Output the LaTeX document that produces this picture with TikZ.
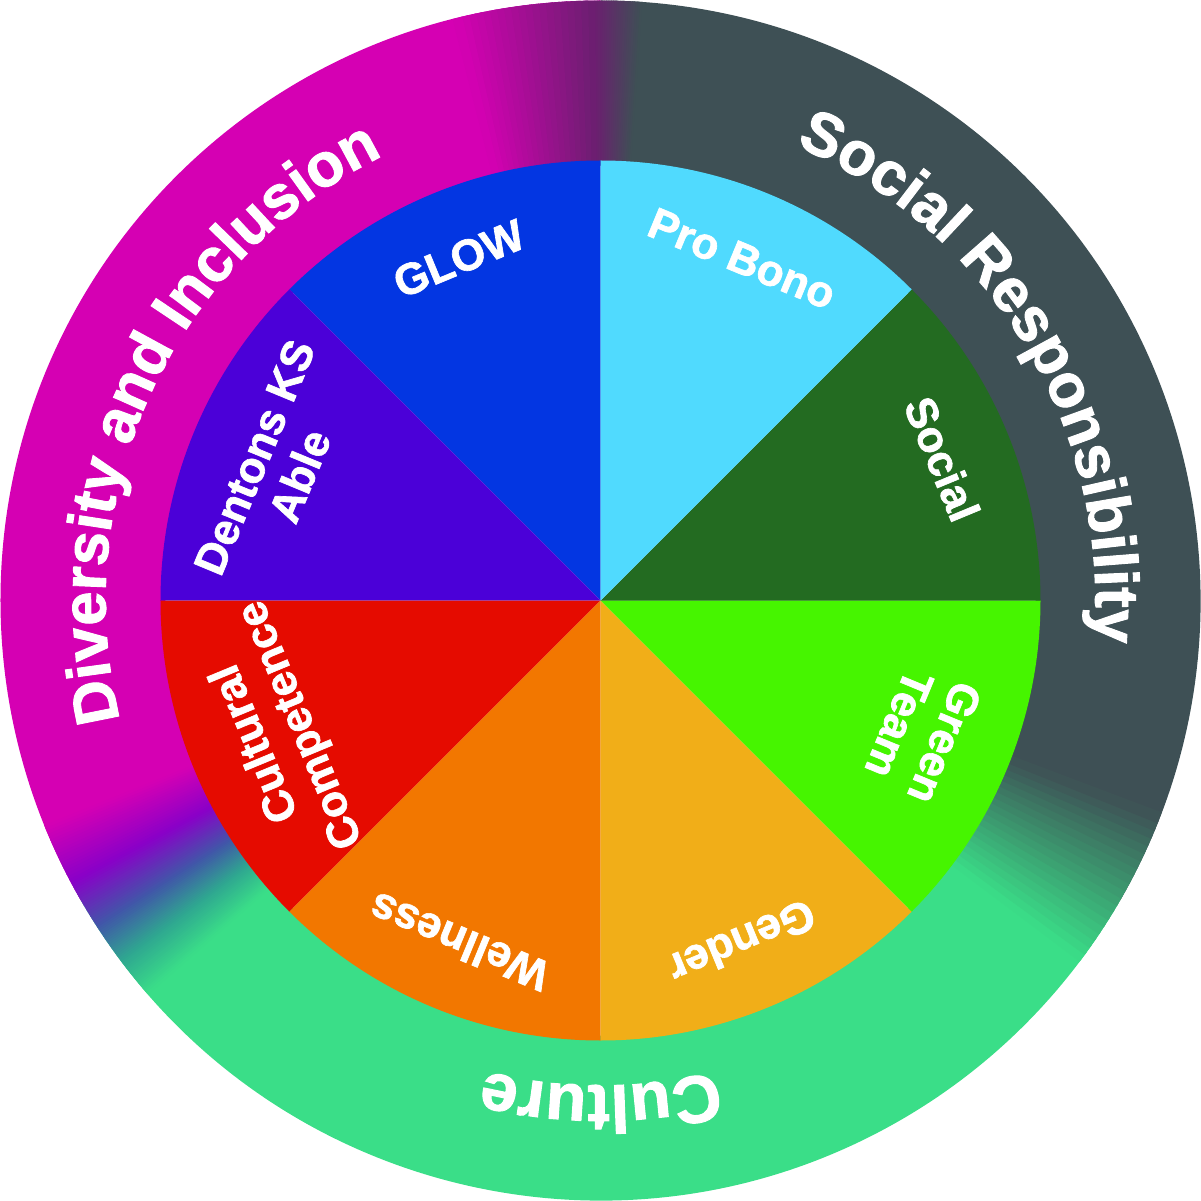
\documentclass[tikz,border=0pt]{standalone}
\usepackage{fontspec}
\setmainfont{Liberation Sans}[BoldFeatures={FakeBold=1.5}]
\usepackage{xcolor}
\usepackage{tikz}
\usetikzlibrary{decorations.text}

% ring colours
\definecolor{ringmagenta}{HTML}{D500B3}
\definecolor{ringgray}{HTML}{3E5055}
\definecolor{ringgreen}{HTML}{3ADE88}
\definecolor{ringplum}{HTML}{6B1F70}
\definecolor{ringviolet}{HTML}{8A00C8}
\definecolor{ringsteel}{HTML}{4058A8}
\definecolor{ringteal}{HTML}{2FA890}
% sector colours
\definecolor{glowblue}{HTML}{0336E2}
\definecolor{ablepurple}{HTML}{4B00D8}
\definecolor{culturalred}{HTML}{E50B00}
\definecolor{wellnessorange}{HTML}{F27700}
\definecolor{gendergold}{HTML}{F1AE18}
\definecolor{greenteam}{HTML}{46F500}
\definecolor{socialgreen}{HTML}{236B21}
\definecolor{probonoblue}{HTML}{50DAFE}

\newcommand{\ringfont}{\fontsize{17.5}{20}\selectfont\bfseries}
\newcommand{\bigringfont}{\fontsize{19}{22}\selectfont\bfseries}

\begin{document}
\begin{tikzpicture}[
  seclabel/.style={text=white, font=\fontsize{12.5}{14}\selectfont\bfseries, align=center, inner sep=0pt},
  ringtext/.style={decorate, decoration={text along path, text color=white, text align=center}}]
\useasboundingbox (-6.005,-6.005) rectangle (6.005,6.005);
% Outer ring, three solid arcs
\foreach \from/\to/\col in {90/210/ringmagenta, -30/90/ringgray, 210/330/ringgreen}
  \fill[\col] (\from:6) arc[start angle=\from, end angle=\to, radius=6]
    -- (\to:4.35) arc[start angle=\to, end angle=\from, radius=4.35] -- cycle;
% Colour blends where the arcs meet
\foreach \from/\to/\ca/\cb in {86/90.5/ringgray/ringplum, 90.5/104/ringplum/ringmagenta,
    202/208/ringmagenta/ringviolet, 208/213/ringviolet/ringsteel,
    213/217/ringsteel/ringteal, 217/221/ringteal/ringgreen,
    -37/-21/ringgreen/ringgray}{
  \foreach \i in {0,...,19}{
    \pgfmathsetmacro\a{\from+(\to-\from)*\i/20}
    \pgfmathsetmacro\b{\a+(\to-\from)*1.4/20}
    \pgfmathtruncatemacro\p{100*(\i+0.5)/20}
    \fill[\cb!\p!\ca] (\a:6) arc[start angle=\a, end angle=\b, radius=6]
      -- (\b:4.35) arc[start angle=\b, end angle=\a, radius=4.35] -- cycle;
  }
}
% Inner wheel, eight sectors
\foreach \a/\col in {90/glowblue, 135/ablepurple, 180/culturalred, 225/wellnessorange,
    270/gendergold, 315/greenteam, 0/socialgreen, 45/probonoblue}
  \fill[\col] (0,0) -- (\a:4.4) arc[start angle=\a, delta angle=45, radius=4.4] -- cycle;
% Sector labels
\node[seclabel, rotate=22.5] (glow) at (112.5:3.7) {GLOW};
\node[seclabel, rotate=67.5] (able) at (157.5:3.5) {Dentons KS\\Able};
\node[seclabel, rotate=112.5] (cultural) at (202.5:3.48) {Cultural\\Competence};
\node[seclabel, rotate=157.5] (wellness) at (247.5:3.7) {Wellness};
\node[seclabel, rotate=-157.5] (gender) at (292.5:3.7) {Gender};
\node[seclabel, rotate=-112.5] (greenteam) at (-22.5:3.48) {Green\\Team};
\node[seclabel, rotate=-67.5] (social) at (22.5:3.7) {Social};
\node[seclabel, rotate=-22.5] (probono) at (67.5:3.7) {Pro Bono};
% Ring labels, read clockwise
\path[ringtext, decoration={text={|\ringfont|Diversity and Inclusion}}]
  (205:4.95) arc[start angle=205, end angle=105, radius=4.95];
\path[ringtext, decoration={text={|\ringfont|Social Responsibility}}]
  (81:4.95) arc[start angle=81, end angle=-19, radius=4.95];
\path[ringtext, decoration={text={|\bigringfont|Culture}}]
  (-40:4.85) arc[start angle=-40, end angle=-140, radius=4.85];
\end{tikzpicture}
\end{document}
